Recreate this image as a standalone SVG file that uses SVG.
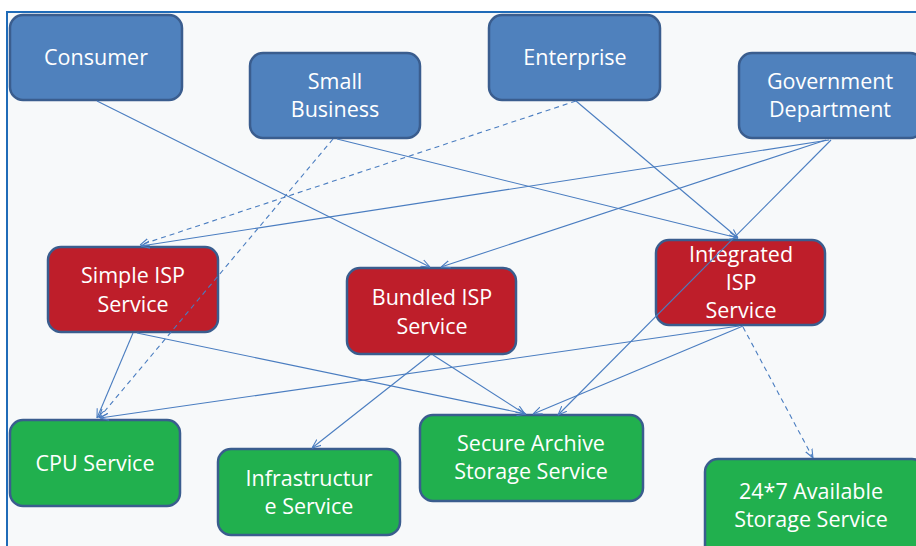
<svg xmlns="http://www.w3.org/2000/svg" width="916" height="546" viewBox="0 0 916 546">
<defs>
<style>
.n rect{stroke:#3a5d8e;stroke-width:2.5}
.b rect{fill:#4f81bd}
.r rect{fill:#be1e2a}
.g rect{fill:#21b04e}
.n text{font-family:"Open Sans","Liberation Sans",sans-serif;font-size:21.5px;fill:#ffffff;text-anchor:middle}
.c line{stroke:#4a7dc0;stroke-width:1.1;fill:none;marker-end:url(#ah)}
.c line.d{stroke-dasharray:5 4}
</style>
<marker id="ah" viewBox="0 0 10 10" refX="10" refY="5" markerWidth="9" markerHeight="9" markerUnits="userSpaceOnUse" orient="auto">
<path d="M0,1 L10,5 L0,9" fill="none" stroke="#4a7dc0" stroke-width="1.2"/>
</marker>
</defs>
<rect x="0" y="0" width="916" height="546" fill="#ffffff"/>
<rect x="7" y="12" width="930" height="560" fill="#f7f9fa" stroke="#1f6bb8" stroke-width="2"/>

<g id="consumer" class="n b"><rect x="10" y="15" width="172" height="85" rx="13"/><text x="96" y="65">Consumer</text></g>
<g id="small-business" class="n b"><rect x="250" y="53" width="170" height="85" rx="13"/><text x="335" y="89">Small</text><text x="335" y="117">Business</text></g>
<g id="enterprise" class="n b"><rect x="489" y="15" width="171" height="85" rx="13"/><text x="575" y="65">Enterprise</text></g>
<g id="government" class="n b"><rect x="739" y="53" width="184" height="85" rx="13"/><text x="830" y="89">Government</text><text x="830" y="117">Department</text></g>

<g id="simple-isp" class="n r"><rect x="48" y="247" width="170" height="85" rx="13"/><text x="133" y="283">Simple ISP</text><text x="133" y="312">Service</text></g>
<g id="bundled-isp" class="n r"><rect x="347" y="268" width="169" height="86" rx="13"/><text x="432" y="305">Bundled ISP</text><text x="432" y="334">Service</text></g>
<g id="integrated-isp" class="n r"><rect x="656" y="240" width="169" height="85" rx="13"/><text x="741" y="262">Integrated</text><text x="741" y="290">ISP</text><text x="741" y="318">Service</text></g>

<g id="cpu" class="n g"><rect x="10" y="420" width="170" height="86" rx="13"/><text x="95" y="471">CPU Service</text></g>
<g id="infrastructure" class="n g"><rect x="218" y="449" width="182" height="86" rx="13"/><text x="309" y="486">Infrastructur</text><text x="309" y="514">e Service</text></g>
<g id="secure-archive" class="n g"><rect x="420" y="415" width="223" height="86" rx="13"/><text x="531" y="451">Secure Archive</text><text x="531" y="479">Storage Service</text></g>
<g id="available-storage" class="n g"><rect x="705" y="459" width="220" height="100" rx="13"/><text x="811" y="499">24*7 Available</text><text x="811" y="527">Storage Service</text></g>

<g class="c" id="connectors">
<line x1="97" y1="101" x2="430" y2="267"/>
<line class="d" x1="333" y1="139" x2="99" y2="418"/>
<line x1="337" y1="139" x2="738" y2="238"/>
<line class="d" x1="576" y1="101" x2="140" y2="245"/>
<line x1="576" y1="101" x2="738" y2="238"/>
<line x1="829" y1="140" x2="141" y2="246"/>
<line x1="826" y1="140" x2="441" y2="267"/>
<line x1="831" y1="140" x2="558" y2="415"/>
<line x1="133" y1="333" x2="97" y2="418"/>
<line x1="137" y1="333" x2="526" y2="414"/>
<line x1="430" y1="355" x2="312" y2="448"/>
<line x1="433" y1="355" x2="525" y2="414"/>
<line x1="739" y1="326" x2="100" y2="418"/>
<line x1="743" y1="326" x2="533" y2="414"/>
<line class="d" x1="743" y1="327" x2="813" y2="458"/>
</g>
</svg>
